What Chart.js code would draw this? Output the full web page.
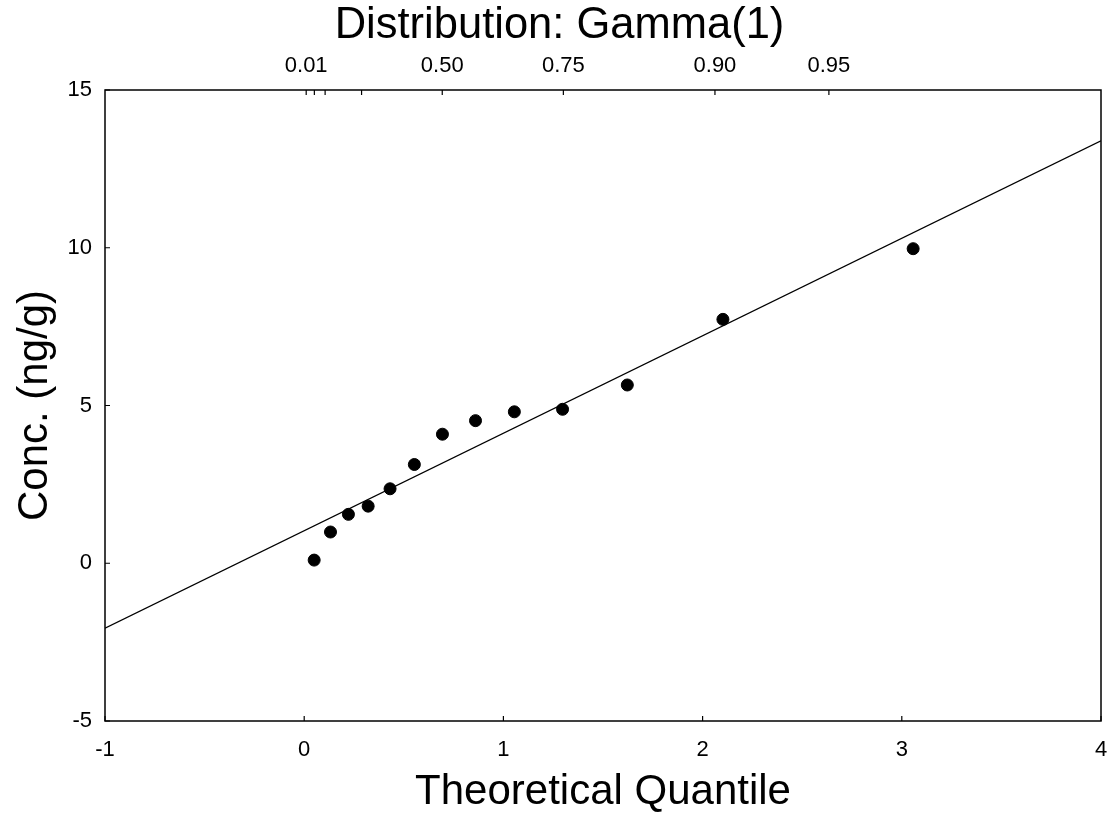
<!DOCTYPE html>
<html>
<head>
<meta charset="utf-8">
<script src="https://cdn.jsdelivr.net/npm/chart.js@4/dist/chart.umd.min.js"></script>
<style>
  html, body { margin: 0; padding: 0; background: #fff; }
  #wrap { width: 1112px; height: 822px; }
</style>
</head>
<body>
<div id="wrap"><canvas id="c" width="1112" height="822"></canvas></div>
<script>
// Sample quantiles versus observed concentrations
const quantiles = [0.050, 0.132, 0.222, 0.321, 0.431, 0.553, 0.694, 0.860, 1.055, 1.297, 1.622, 2.102, 3.057];
const concentrations = [0.10, 0.99, 1.55, 1.81, 2.36, 3.13, 4.09, 4.52, 4.80, 4.88, 5.65, 7.73, 9.97];

// Fitted reference line, evaluated at the x-axis limits
const fitX = [-1, 4];
const fitY = [-2.06, 13.39];

// Bottom / left axis ticks
const xTicks = [-1, 0, 1, 2, 3, 4];
const yTicks = [-5, 0, 5, 10, 15];

// Probability axis along the top: tick positions (in quantile units) and labels
const probTickPositions = [0.010, 0.051, 0.105, 0.288, 0.693, 1.301, 2.062, 2.634];
const probTickLabels = ['0.01', '', '', '', '0.50', '0.75', '0.90', '0.95'];

const FONT = "'Liberation Sans', Arial, Helvetica, sans-serif";

// Draws the plot frame and short inward tick marks from the chart's scales
const frameTicks = {
  id: 'frameTicks',
  afterDraw(chart) {
    const { ctx, chartArea: a, scales } = chart;
    const len = 5;
    ctx.save();
    ctx.strokeStyle = '#000';
    ctx.lineWidth = 1.5;
    ctx.strokeRect(a.left, a.top, a.right - a.left, a.bottom - a.top);
    ctx.lineWidth = 1.2;
    ctx.beginPath();
    xTicks.forEach(v => {
      const px = scales.x.getPixelForValue(v);
      ctx.moveTo(px, a.bottom); ctx.lineTo(px, a.bottom - len);
    });
    yTicks.forEach(v => {
      const py = scales.y.getPixelForValue(v);
      ctx.moveTo(a.left, py); ctx.lineTo(a.left + len, py);
    });
    probTickPositions.forEach(v => {
      const px = scales.x2.getPixelForValue(v);
      ctx.moveTo(px, a.top); ctx.lineTo(px, a.top + len);
    });
    ctx.stroke();
    ctx.restore();
  }
};

// Fixed axis band sizes, with no extra edge padding from the tick labels
const fixHorizontal = h => s => { s.height = h; s.paddingLeft = 0; s.paddingRight = 0; };

new Chart(document.getElementById('c'), {
  type: 'scatter',
  data: {
    datasets: [
      {
        label: 'Fit',
        type: 'line',
        data: fitX.map((x, i) => ({ x, y: fitY[i] })),
        borderColor: '#000',
        borderWidth: 1.4,
        pointRadius: 0,
        fill: false,
        tension: 0,
        xAxisID: 'x',
        yAxisID: 'y',
        order: 2
      },
      {
        label: 'Conc.',
        data: quantiles.map((x, i) => ({ x, y: concentrations[i] })),
        backgroundColor: '#000',
        borderColor: '#000',
        pointRadius: 6,
        pointHoverRadius: 6,
        xAxisID: 'x',
        yAxisID: 'y',
        order: 1
      }
    ]
  },
  options: {
    responsive: false,
    animation: false,
    events: [],
    layout: { padding: { left: 18, right: 11, top: 0, bottom: 0 } },
    plugins: {
      legend: { display: false },
      tooltip: { enabled: false },
      title: {
        display: true,
        text: 'Distribution: Gamma(1)',
        color: '#000',
        font: { family: FONT, size: 43.5, weight: 'normal', lineHeight: 1.2 },
        padding: { top: 0, bottom: 0 }
      }
    },
    scales: {
      x: {
        type: 'linear',
        position: 'bottom',
        min: -1,
        max: 4,
        afterBuildTicks: s => { s.ticks = xTicks.map(v => ({ value: v })); },
        afterFit: fixHorizontal(101),
        grid: { display: true, drawOnChartArea: false, drawTicks: false },
        border: { display: false },
        ticks: {
          color: '#000',
          padding: 16,
          maxRotation: 0,
          font: { family: FONT, size: 22 },
          callback: v => String(v)
        },
        title: {
          display: true,
          text: 'Theoretical Quantile',
          color: '#000',
          font: { family: FONT, size: 42 },
          padding: { top: 0, bottom: 4 }
        }
      },
      x2: {
        type: 'linear',
        position: 'top',
        min: -1,
        max: 4,
        afterBuildTicks: s => { s.ticks = probTickPositions.map(v => ({ value: v })); },
        afterFit: fixHorizontal(37.8),
        grid: { display: true, drawOnChartArea: false, drawTicks: false },
        border: { display: false },
        ticks: {
          color: '#000',
          padding: 11,
          maxRotation: 0,
          autoSkip: false,
          font: { family: FONT, size: 22 },
          callback: (v, i) => probTickLabels[i]
        }
      },
      y: {
        type: 'linear',
        position: 'left',
        min: -5,
        max: 15,
        afterBuildTicks: s => { s.ticks = yTicks.map(v => ({ value: v })); },
        afterFit: s => { s.width = 87; s.paddingTop = 0; s.paddingBottom = 0; },
        grid: { display: true, drawOnChartArea: false, drawTicks: false },
        border: { display: false },
        ticks: {
          color: '#000',
          padding: 13,
          font: { family: FONT, size: 22 },
          callback: v => String(v)
        },
        title: {
          display: true,
          text: 'Conc. (ng/g)',
          color: '#000',
          font: { family: FONT, size: 42 },
          padding: { top: -8, bottom: 0 }
        }
      }
    }
  },
  plugins: [frameTicks]
});
</script>
</body>
</html>
